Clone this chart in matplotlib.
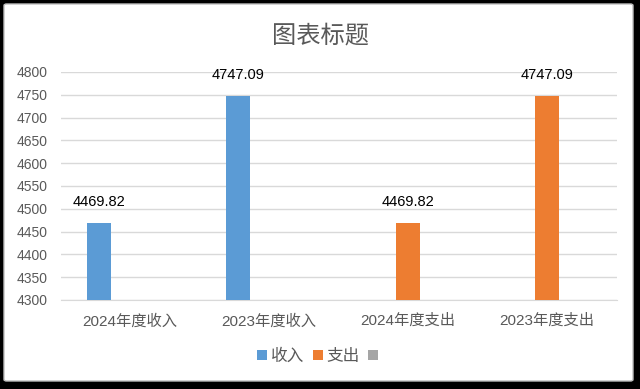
import matplotlib
matplotlib.use("Agg")
import matplotlib.pyplot as plt
from matplotlib.patches import FancyBboxPatch, Rectangle
import numpy as np

categories = ["2024年度收入", "2023年度收入", "2024年度支出", "2023年度支出"]
income = [4469.82, 4747.09, None, None]
expense = [None, None, 4469.82, 4747.09]
series_names = ["收入", "支出", " "]
colors = ["#5B9BD5", "#ED7D31", "#A5A5A5"]
yticks = list(range(4300, 4801, 50))

plt.rcParams['font.family'] = ['Liberation Sans', 'Noto Sans CJK SC', 'DejaVu Sans']

W, H = 640, 389
fig = plt.figure(figsize=(W/100, H/100), dpi=100, facecolor="black")

bg = FancyBboxPatch((4/W, 8/H), 629/W, 377/H, boxstyle="round,pad=0,rounding_size=0.004",
                    transform=fig.transFigure, facecolor="white", edgecolor="#BFBFBF",
                    linewidth=1.0, zorder=-10)
fig.patches.append(bg)

left, right = 60.5/W, 616.5/W
bottom, top = (H-300)/H, (H-72)/H
ax = fig.add_axes([left, bottom, right-left, top-bottom])
ax.set_facecolor("none")
ax.set_zorder(5)

x = np.arange(len(categories))
width = 0.175
offset = 0.223

def draw(vals, off, color, label):
    xs = [xi + off for xi, v in zip(x, vals) if v is not None]
    vs = [v for v in vals if v is not None]
    bars = ax.bar(xs, [v - 4300 for v in vs], width, bottom=4300, color=color, label=label, zorder=3)
    for xi, v in zip(xs, vs):
        ax.text(xi, v + 30, f"{v:.2f}", ha="center", va="bottom", fontsize=10.5,
                color="#000000", clip_on=False)
    return bars

draw(income, -offset, colors[0], series_names[0])
draw(expense, 0.0, colors[1], series_names[1])

ax.set_xlim(-0.5, 3.5)
ax.set_ylim(4300, 4800)
ax.set_yticks(yticks)
ax.set_yticklabels([str(t) for t in yticks], fontsize=10, color="#595959")
ax.set_xticks(x)
ax.set_xticklabels(categories, fontsize=11, color="#595959")
ax.tick_params(axis="both", length=0)
ax.tick_params(axis="y", pad=9)
ax.tick_params(axis="x", pad=10)
for s in ["top", "right", "left"]:
    ax.spines[s].set_visible(False)
ax.spines["bottom"].set_color("#D9D9D9")
ax.grid(axis="y", color="#D9D9D9", linewidth=1, zorder=0)

fig.text(320/W, (H-36)/H, "图表标题", ha="center", va="center", fontsize=17.5, color="#595959")

handles = [Rectangle((0, 0), 1, 1, facecolor=c) for c in colors]
leg = fig.legend(handles, series_names, loc="center", bbox_to_anchor=(322/W, (H-356)/H), ncol=3,
                 frameon=False, fontsize=12, handlelength=0.6, handleheight=0.6,
                 handletextpad=0.25, columnspacing=0.5, labelcolor="#595959")

fig.savefig("out.png", dpi=100, facecolor="black")
